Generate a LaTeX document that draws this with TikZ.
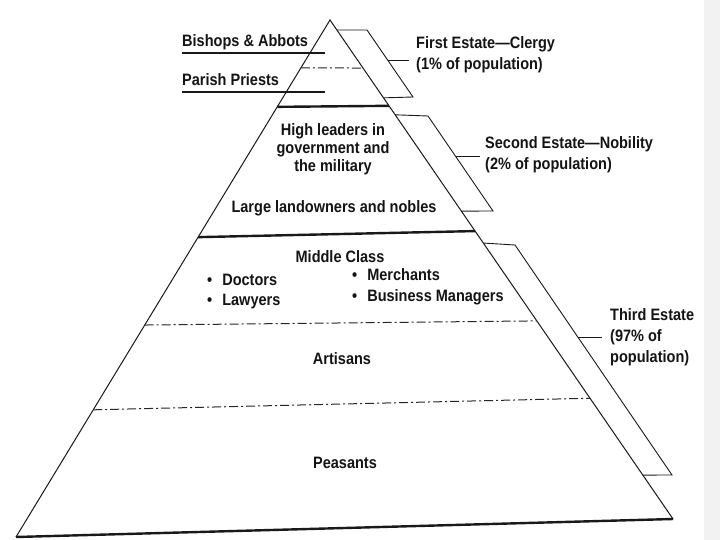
\documentclass[tikz,border=0pt]{standalone}
\usepackage{fontspec}
\setmainfont{Liberation Sans}[FakeStretch=0.88]
\usetikzlibrary{calc}
\begin{document}
\begin{tikzpicture}[x=1pt,y=-1pt,
  lbl/.style={font=\bfseries\fontsize{16.5}{21}\selectfont, inner sep=0pt, text=black!92},
  inlbl/.style={font=\bfseries\fontsize{16.5}{18}\selectfont, inner sep=0pt, align=center, text=black!92},
  edge/.style={line width=1pt, black!90},
  heavy/.style={line width=2.4pt, black!90},
  uline/.style={line width=2.2pt, black!90},
  dashdot/.style={line width=1pt, black!85, dash pattern=on 9pt off 3pt on 2pt off 3pt},
  bracket/.style={line width=0.9pt, black!90, line join=miter}]
\useasboundingbox (0,0) rectangle (720,540);
\fill[white] (0,0) rectangle (720,540);
\fill[gray!10] (704,0) rectangle (720,540);
% pyramid
\coordinate (A) at (330,20);
\coordinate (BL) at (16,537);
\coordinate (BR) at (673,519);
\draw[edge] (BL) -- (A) -- (BR);
\draw[heavy] (BL) -- (BR);
% level lines
\draw[dashdot] ($(A)!0.0928!(BL)$) -- ($(A)!0.0962!(BR)$);
\draw[heavy] ($(A)!0.168!(BL)$) -- ($(A)!0.172!(BR)$);
\draw[heavy] ($(A)!0.420!(BL)$) -- ($(A)!0.423!(BR)$);
\draw[dashdot] ($(A)!0.590!(BL)$) -- ($(A)!0.603!(BR)$);
\draw[dashdot] ($(A)!0.754!(BL)$) -- ($(A)!0.758!(BR)$);
% left labels
\node[lbl, anchor=base west] (bishops) at (182,47) {Bishops \& Abbots};
\node[lbl, anchor=base west] (priests) at (182,86) {Parish Priests};
\draw[uline] (182,53) -- (325,53);
\draw[uline] (182,92) -- (325,92);
% first estate bracket
\coordinate (f1) at ($(A)!0.02!(BR)$);
\coordinate (f2) at (367,30);
\coordinate (f3) at (413,97);
\coordinate (f4) at ($(A)!0.156!(BR)$);
\draw[bracket] (f1) -- (f2) -- (f3) -- (f4);
\coordinate (ft) at ($(f2)!0.45!(f3)$);
\draw[bracket] (ft) -- ++(21,0);
\node[lbl, anchor=north west, align=left] (first) at (416,36) {First Estate---Clergy\\(1\% of population)};
% second estate bracket
\coordinate (s1) at ($(A)!0.190!(BR)$);
\coordinate (s2) at (428,116);
\coordinate (s3) at (493,211);
\coordinate (s4) at ($(A)!0.383!(BR)$);
\draw[bracket] (s1) -- (s2) -- (s3) -- (s4);
\coordinate (st) at ($(s2)!0.43!(s3)$);
\draw[bracket] (st) -- ++(24,0);
\node[lbl, anchor=north west, align=left] (second) at (485,136) {Second Estate---Nobility\\(2\% of population)};
% third estate bracket
\coordinate (t1) at ($(A)!0.447!(BR)$);
\coordinate (t2) at (515,245);
\coordinate (t3) at (672,475);
\coordinate (t4) at ($(A)!0.912!(BR)$);
\draw[bracket] (t1) -- (t2) -- (t3) -- (t4);
\coordinate (tt) at ($(t2)!0.404!(t3)$);
\draw[bracket] (tt) -- ++(24,0);
\node[lbl, anchor=north west, align=left] (third) at (610,308) {Third Estate\\(97\% of\\population)};
% inner texts
\node[inlbl, anchor=north] (high) at (333,123) {High leaders in\\government and\\the military};
\node[inlbl, anchor=base] (large) at (334,213) {Large landowners and nobles};
\node[inlbl, anchor=base] (middle) at (340,262) {Middle Class};
\node[lbl, anchor=base west] (doctors) at (207,285) {\textbullet\hspace{10pt}Doctors};
\node[lbl, anchor=base west] (lawyers) at (207,305) {\textbullet\hspace{10pt}Lawyers};
\node[lbl, anchor=base west] (merchants) at (352,280) {\textbullet\hspace{10pt}Merchants};
\node[lbl, anchor=base west] (business) at (352,301) {\textbullet\hspace{10pt}Business Managers};
\node[inlbl, anchor=base] (artisans) at (342,364) {Artisans};
\node[inlbl, anchor=base] (peasants) at (345,468) {Peasants};
\end{tikzpicture}
\end{document}
